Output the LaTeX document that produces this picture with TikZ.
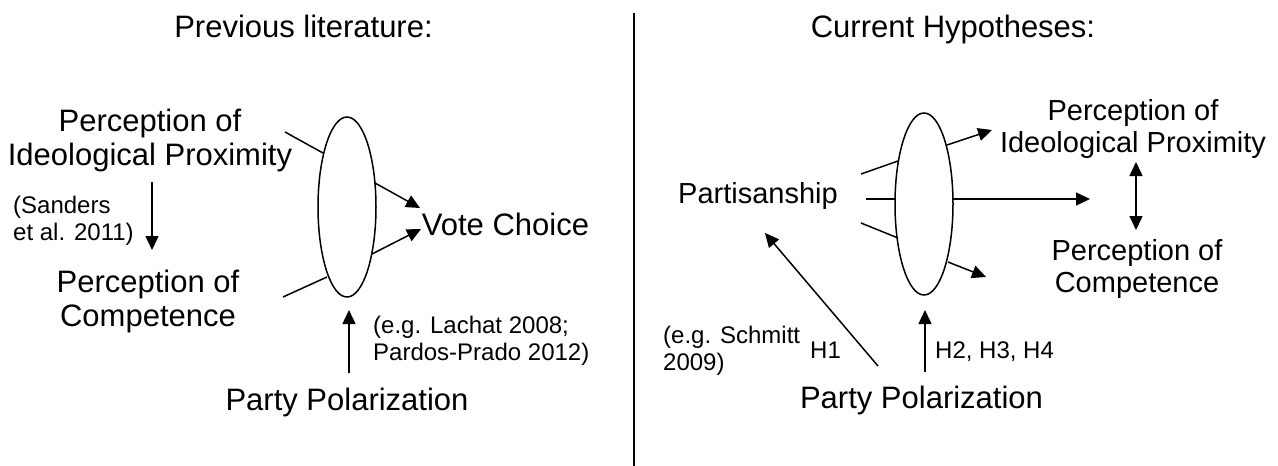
\documentclass[tikz,border=0pt]{standalone}
\usepackage{fontspec}
\setmainfont{Liberation Sans}
\usetikzlibrary{arrows.meta,shapes.geometric}
\newcommand\bigtxt{\fontsize{31}{34}\selectfont}
\newcommand\midtxt{\fontsize{29}{32}\selectfont}
\newcommand\smalltxt{\fontsize{24}{26.5}\selectfont}
\begin{document}
\begin{tikzpicture}[x=1pt,y=-1pt,
  lbl/.style={inner sep=0pt,anchor=base,align=center,font=\bigtxt},
  lblr/.style={inner sep=0pt,anchor=base,align=center,font=\midtxt},
  note/.style={inner sep=0pt,anchor=base west,align=left,font=\smalltxt},
  oval/.style={draw,ellipse,line width=1.5pt,inner sep=0pt},
  link/.style={line width=1.5pt},
  arr/.style={line width=1.5pt,-{Triangle[length=14pt,width=13pt]}},
  darr/.style={line width=1.5pt,{Triangle[length=14pt,width=13pt]}-{Triangle[length=14pt,width=13pt]}}]
\path[use as bounding box] (0,0) rectangle (1278,466);
% divider
\coordinate (dtop) at (634,13);
\coordinate (dbot) at (634,466);
\draw[line width=1.2pt] (dtop) -- (dbot);
% titles
\node[lbl] (t1) at (303.5,37) {Previous literature:};
\node[lbl] (t2) at (953,37) {Current Hypotheses:};
% ---------- left panel ----------
\node[oval,minimum width=58,minimum height=180] (e1) at (347,207) {};
\node[lbl] (ideoL) at (150,165) {Perception of\\Ideological Proximity};
\node[lbl] (compL) at (148,326) {Perception of\\Competence};
\node[note] (sanders) at (13,240) {(Sanders\\et al. 2011)};
\node[lbl] (vote) at (505.5,235) {Vote Choice};
\node[note] (lachat) at (373,360) {(e.g. Lachat 2008;\\Pardos-Prado 2012)};
\node[lbl] (polL) at (347,410) {Party Polarization};
\coordinate (a1) at (285,132); \coordinate (a2) at (323,153);
\coordinate (b1) at (283,297); \coordinate (b2) at (327,277);
\coordinate (c1) at (375,183); \coordinate (c2) at (420,208);
\coordinate (d1) at (372,254); \coordinate (d2) at (421,229);
\coordinate (s1) at (152,182); \coordinate (s2) at (152,250);
\coordinate (u1) at (349,373); \coordinate (u2) at (349,310);
\draw[link] (a1) -- (a2);
\draw[link] (b1) -- (b2);
\draw[arr] (c1) -- (c2);
\draw[arr] (d1) -- (d2);
\draw[arr] (s1) -- (s2);
\draw[arr] (u1) -- (u2);
% ---------- right panel ----------
\node[oval,minimum width=58,minimum height=182] (e2) at (924,204) {};
\node[lblr] (partisan) at (758,203) {Partisanship};
\node[lblr] (ideoR) at (1133,152) {Perception of\\Ideological Proximity};
\node[lblr] (compR) at (1137,292) {Perception of\\Competence};
\node[note] (schmitt) at (663,370) {(e.g. Schmitt\\2009)};
\node[note] (h1) at (810,358) {H1};
\node[note] (h234) at (935,358) {H2, H3, H4};
\node[lbl] (polR) at (921.5,408) {Party Polarization};
\coordinate (p1) at (861,174); \coordinate (p2) at (898,161);
\coordinate (q1) at (866,199); \coordinate (q2) at (895,199);
\coordinate (r1) at (861,223); \coordinate (r2) at (898,238);
\coordinate (f1) at (947,145); \coordinate (f2) at (992,130);
\coordinate (g1) at (953,199); \coordinate (g2) at (1090,199);
\coordinate (k1) at (948,262); \coordinate (k2) at (986,277);
\coordinate (m1) at (1136,162); \coordinate (m2) at (1136,230);
\coordinate (n1) at (878,366); \coordinate (n2) at (765,233);
\coordinate (v1) at (925,372); \coordinate (v2) at (925,310);
\draw[link] (p1) -- (p2);
\draw[link] (q1) -- (q2);
\draw[link] (r1) -- (r2);
\draw[arr] (f1) -- (f2);
\draw[arr] (g1) -- (g2);
\draw[arr] (k1) -- (k2);
\draw[darr] (m1) -- (m2);
\draw[arr] (n1) -- (n2);
\draw[arr] (v1) -- (v2);
\end{tikzpicture}
\end{document}
